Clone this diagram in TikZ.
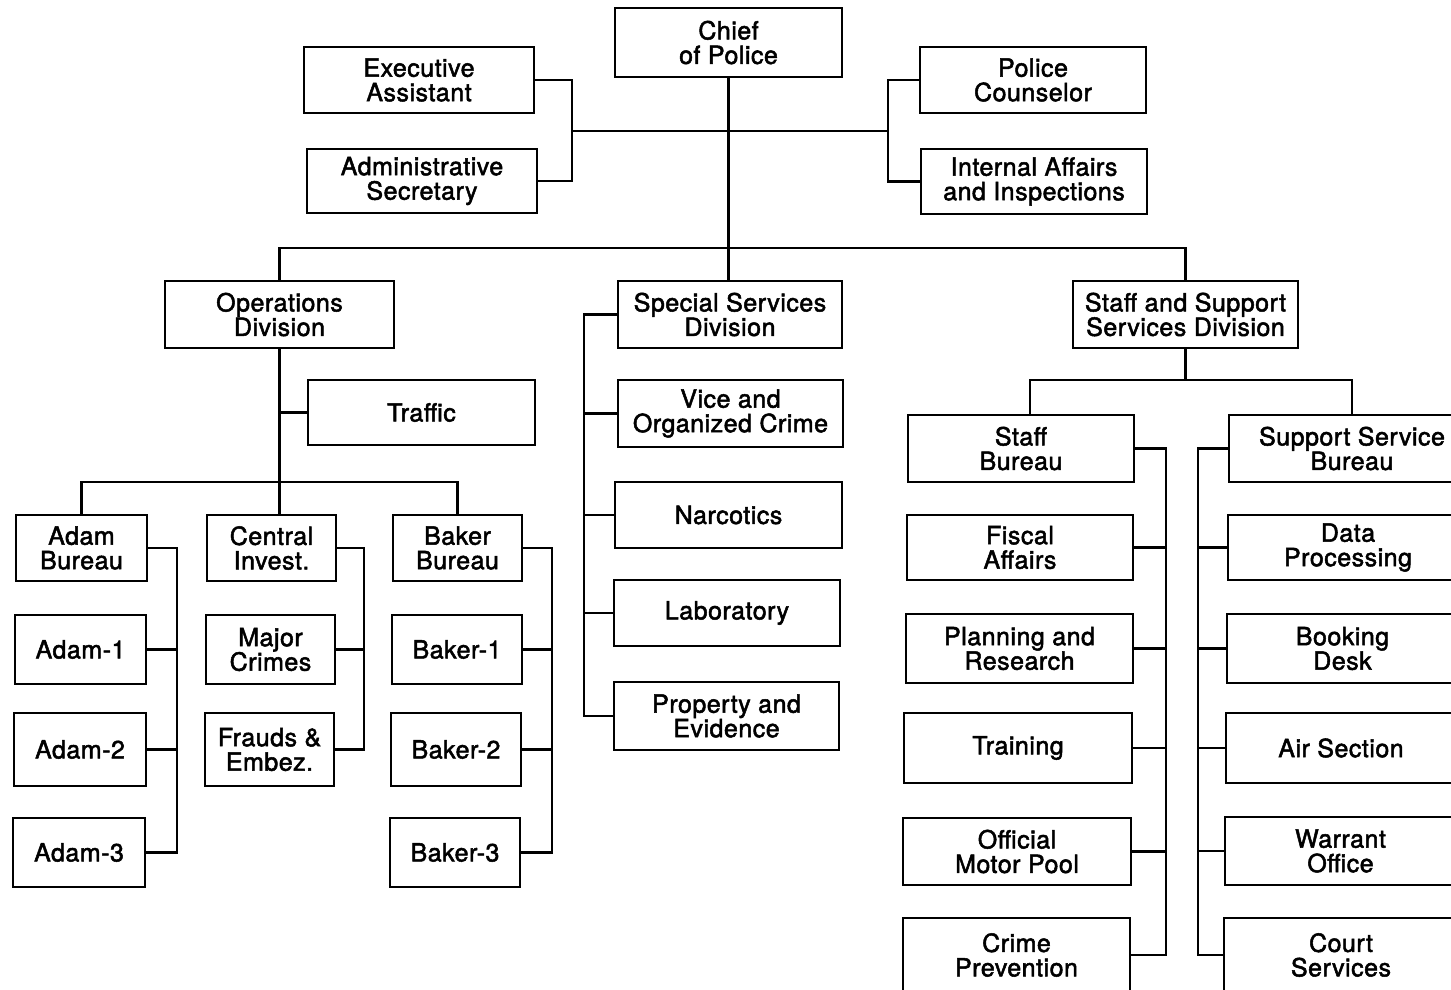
\documentclass[tikz,border=0pt]{standalone}
\usepackage{fontspec}
\setmainfont{TeX Gyre Heros}[LetterSpace=2,FakeBold=2]
\newcommand{\bx}[6]{\node[boxst, minimum width={#4-#2}, minimum height={#5-#3}] (#1) at ({(#2+#4)/2},{(#3+#5)/2}) {#6};}
\begin{document}
\begin{tikzpicture}[x=1pt,y=-1pt,
  boxst/.style={draw, line width=2.6pt, inner sep=0pt, align=center, font=\fontsize{25}{24.5}\selectfont},
  conn/.style={line width=2.6pt}]
\useasboundingbox (0,0) rectangle (1451,989);
\clip (0,0) rectangle (1451,989);
\fill[white] (0,0) rectangle (1451,989);
% top level
\bx{chief}{615}{8}{842}{77}{Chief\\of Police}
\bx{ea}{304}{47}{534}{113}{Executive\\Assistant}
\bx{as}{307}{149}{537}{213}{Administrative\\Secretary}
\bx{pc}{920}{47}{1146}{113}{Police\\Counselor}
\bx{ia}{921}{149}{1147}{214}{Internal Affairs\\and Inspections}
% divisions
\bx{ops}{165}{281}{394}{348}{Operations\\Division}
\bx{ssd}{618}{281}{842}{348}{Special Services\\Division}
\bx{sss}{1073}{281}{1298}{348}{Staff and Support\\Services Division}
% operations
\bx{traffic}{308}{380}{535}{445}{Traffic}
\bx{adam}{16}{515}{147}{581}{Adam\\Bureau}
\bx{ci}{207}{515}{336}{581}{Central\\Invest.}
\bx{baker}{393}{515}{522}{581}{Baker\\Bureau}
\bx{adam1}{15}{615}{146}{684}{Adam-1}
\bx{adam2}{14}{713}{146}{786}{Adam-2}
\bx{adam3}{13}{818}{145}{887}{Adam-3}
\bx{mc}{206}{615}{335}{684}{Major\\Crimes}
\bx{fe}{205}{713}{334}{786}{Frauds \&\\Embez.}
\bx{baker1}{392}{615}{522}{684}{Baker-1}
\bx{baker2}{391}{713}{521}{786}{Baker-2}
\bx{baker3}{390}{818}{520}{887}{Baker-3}
% special services
\bx{vice}{618}{380}{843}{447}{Vice and\\Organized Crime}
\bx{narc}{615}{482}{842}{548}{Narcotics}
\bx{lab}{614}{580}{840}{646}{Laboratory}
\bx{pe}{614}{682}{839}{750}{Property and\\Evidence}
% staff and support
\bx{sb}{908}{415}{1134}{482}{Staff\\Bureau}
\bx{fa}{907}{515}{1133}{580}{Fiscal\\Affairs}
\bx{pr}{906}{614}{1133}{683}{Planning and\\Research}
\bx{tr}{904}{713}{1132}{783}{Training}
\bx{omp}{903}{818}{1131}{885}{Official\\Motor Pool}
\bx{cp}{903}{918}{1130}{992}{Crime\\Prevention}
\bx{ssb}{1229}{415}{1475}{482}{Support Service\\Bureau}
\bx{dp}{1228}{515}{1468}{580}{Data\\Processing}
\bx{bd}{1227}{614}{1458}{683}{Booking\\Desk}
\bx{air}{1226}{713}{1456}{783}{Air Section}
\bx{wo}{1225}{817}{1456}{885}{Warrant\\Office}
\bx{cs}{1224}{918}{1458}{992}{Court\\Services}
% junction coordinates
\coordinate (lj) at (572,131);
\coordinate (rj) at (888,131);
\coordinate (bus1) at (0,248);
\coordinate (bus2) at (0,482);
\coordinate (bus3) at (0,380);
\coordinate (ax) at (177,0);
\coordinate (cx) at (364,0);
\coordinate (bkx) at (552,0);
\coordinate (sx) at (584,0);
\coordinate (stx) at (1166,0);
\coordinate (spx) at (1198,0);
% top connectors
\draw[conn] (ea.east) -| (lj) |- (as.east);
\draw[conn] (lj) -- (rj);
\draw[conn] (pc.west) -| (rj) |- (ia.west);
\draw[conn] (chief.south) -- (chief.south |- ssd.north);
\draw[conn] (ops.north) |- (bus1 -| sss.north) -- (sss.north);
% operations
\draw[conn] (ops.south) -- (ops.south |- ci.north);
\draw[conn] (traffic.west) -- (traffic.west -| ops.south);
\draw[conn] (adam.north) |- (bus2 -| baker.north) -- (baker.north);
\draw[conn] (adam.east) -| (ax |- adam3.east) -- (adam3.east);
\draw[conn] (adam1.east) -- (adam1.east -| ax);
\draw[conn] (adam2.east) -- (adam2.east -| ax);
\draw[conn] (ci.east) -| (cx |- fe.east) -- (fe.east);
\draw[conn] (mc.east) -- (mc.east -| cx);
\draw[conn] (baker.east) -| (bkx |- baker3.east) -- (baker3.east);
\draw[conn] (baker1.east) -- (baker1.east -| bkx);
\draw[conn] (baker2.east) -- (baker2.east -| bkx);
% special services
\draw[conn] (ssd.west) -| (sx |- pe.west) -- (pe.west);
\draw[conn] (vice.west) -- (vice.west -| sx);
\draw[conn] (narc.west) -- (narc.west -| sx);
\draw[conn] (lab.west) -- (lab.west -| sx);
% staff and support
\draw[conn] (sss.south) -- (sss.south |- bus3);
\draw[conn] ([xshift=9pt]sb.north) |- (bus3 -| ssb.north) -- (ssb.north);
\draw[conn] (sb.east) -| (stx |- cp.east) -- (cp.east);
\draw[conn] (fa.east) -- (fa.east -| stx);
\draw[conn] (pr.east) -- (pr.east -| stx);
\draw[conn] (tr.east) -- (tr.east -| stx);
\draw[conn] (omp.east) -- (omp.east -| stx);
\draw[conn] (ssb.west) -| (spx |- cs.west) -- (cs.west);
\draw[conn] (dp.west) -- (dp.west -| spx);
\draw[conn] (bd.west) -- (bd.west -| spx);
\draw[conn] (air.west) -- (air.west -| spx);
\draw[conn] (wo.west) -- (wo.west -| spx);
\end{tikzpicture}
\end{document}
